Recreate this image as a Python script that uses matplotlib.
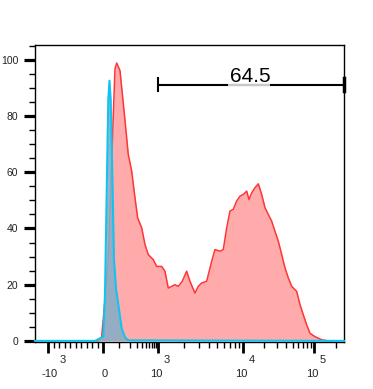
import numpy as np
import matplotlib
matplotlib.use("Agg")
import matplotlib.pyplot as plt
from matplotlib.ticker import FixedLocator, NullFormatter

plt.rcParams['font.family'] = ['Liberation Sans', 'DejaVu Sans']

# ---- biexponential-like display scale knots (fluorescence value -> display channel)
scale_values = [-2000, -1000, 0, 1000, 1e4, 1e5, 262144, 1e6]
scale_channels = [-41.4, 13.3, 68.0, 123.3, 207.7, 279.0, 309.0, 350.3]

# ---- data: red (sample) histogram, % of max
red_x = [-1243, -73, -24, 10.9, 29.1, 48.9, 69.7, 81.3, 105.8, 150, 184, 226, 274, 320,
         402, 482, 578, 762, 916, 1097, 1200, 1314, 1441, 1577, 1726, 1925, 2170, 2375,
         2721, 2978, 3268, 3746, 4293, 4697, 5383, 5890, 6463, 7071, 7737, 8489, 9290,
         10195, 11380, 12260, 13375, 14880, 16550, 18470, 20550, 22860, 25510, 28380,
         31570, 35240, 39210, 43620, 48670, 57200, 63630, 70780, 79000, 87880, 103300,
         128000, 158000, 262144]
red_y = [0, 0, 1.5, 14.6, 28.9, 64.6, 96.8, 98.9, 96.2, 78.3, 66.4, 60.5, 51, 43.8,
         40.2, 34.3, 30.7, 28.9, 26.5, 26.5, 24.8, 18.8, 19.4, 20, 19.4, 21.2, 24.8, 21.2,
         17, 19.4, 20.6, 21.2, 28.3, 32.5, 31.9, 32.5, 40.2, 46.2, 46.8, 49.8, 51.5,
         52.1, 53.3, 50.3, 52.7, 54.5, 55.9, 52.1, 47.4, 45, 42.6, 39, 35.5, 30.7, 26,
         22.4, 19.4, 17.6, 12.9, 9.3, 5.7, 2.7, 1.5, 0.4, 0, 0]

# ---- data: cyan (control) histogram, % of max
cyan_x = [-1243, -146, 1.6, 10.9, 20.2, 29.1, 36, 43, 48.9, 55.2, 63.2, 76.6, 92.8,
          119.5, 150, 184, 262144]
cyan_y = [0, 0, 1.5, 17, 52.8, 86, 92.6, 86, 70, 52, 29, 18.5, 13, 4.5, 1.2, 0.2, 0]

# ---- gate
gate_lo, gate_hi = 1000, 262144
gate_level = 91.2
gate_label = "64.5"
gate_label_x = 12600
gate_gray = (6700, 24150)

y_major = [0, 20, 40, 60, 80, 100]
y_minor = [v for v in range(0, 106, 5) if v % 20]
x_major = [-1000, 0, 1000, 1e4, 1e5]
x_minor = ([-100 * k for k in range(1, 10)] + [100 * k for k in range(1, 10)] +
           [1000 * k for k in range(2, 10)] + [1e4 * k for k in range(2, 10)] + [2e5])


def to_u(v):
    v = np.asarray(v, float)
    return np.where(v < 0, v * 0.003, np.arcsinh(np.clip(v, 0, None) / 100.0))


def from_u(u):
    u = np.asarray(u, float)
    return np.where(u < 0, u / 0.003, 100.0 * np.sinh(np.clip(u, 0, None)))


U_KN = to_u(scale_values)


def fwd(v):
    return np.interp(to_u(v), U_KN, scale_channels)


def inv(c):
    return from_u(np.interp(np.asarray(c, float), scale_channels, U_KN))


fig = plt.figure(figsize=(3.73, 3.89), dpi=100)
ax = fig.add_axes([35 / 373, 1 - 342 / 389, 309 / 373, 297 / 389])
ax.set_xscale('function', functions=(fwd, inv))

ax.fill_between(red_x, red_y, 0, color='#ffabab', lw=0, zorder=1)
ax.plot(red_x, red_y, color='#ff3535', lw=1.1, zorder=2)
ax.fill_between(cyan_x, cyan_y, 0, color='#8aaec6', alpha=0.9, lw=0, zorder=3)
ax.plot(cyan_x, cyan_y, color='#12c3f2', lw=1.5, zorder=4, clip_on=False)

ax.set_xlim(-1243, 262144)
ax.set_ylim(-0.4, 105.3)

# gate
ax.plot([gate_lo, gate_hi], [gate_level, gate_level], color='black', lw=1.5, zorder=5,
        solid_capstyle='butt')
ax.plot(list(gate_gray), [gate_level, gate_level], color='#c8c8c8', lw=1.5, zorder=6,
        solid_capstyle='butt')
ax.plot([gate_lo, gate_lo], [gate_level - 2.3, gate_level + 2.3], color='black', lw=1.5,
        zorder=5)
ax.plot([gate_hi, gate_hi], [gate_level - 2.3, gate_level + 2.3], color='black', lw=2.5,
        zorder=5, clip_on=False)
ax.text(gate_label_x, gate_level + 1.0, gate_label, ha='center', va='baseline',
        fontsize=15, color='black', zorder=7)

# axes styling
for s in ax.spines.values():
    s.set_linewidth(1.0)
    s.set_color('black')

ax.yaxis.set_major_locator(FixedLocator(y_major))
ax.yaxis.set_minor_locator(FixedLocator(y_minor))
ax.tick_params(axis='y', which='major', length=8, width=2.3, pad=4, labelsize=7.5,
               labelcolor='#222222')
ax.tick_params(axis='y', which='minor', length=4, width=1)

ax.xaxis.set_major_locator(FixedLocator(x_major))
ax.xaxis.set_minor_locator(FixedLocator(x_minor))
ax.xaxis.set_major_formatter(NullFormatter())
ax.xaxis.set_minor_formatter(NullFormatter())
ax.tick_params(axis='x', which='major', length=8, width=2)
ax.tick_params(axis='x', which='minor', length=4, width=1)

# x tick labels in FlowJo style: base + raised exponent
xt = ax.get_xaxis_transform()
k = 0.72  # px -> pt
lab_size = 8
for val, base, exp in [(-1000, '-10', '3'), (1000, '10', '3'), (1e4, '10', '4'),
                       (1e5, '10', '5')]:
    shift = 9.7 if base.startswith('-') else 4.5
    ax.annotate(base, (val, 0), xycoords=xt, xytext=(shift * k, -35 * k),
                textcoords='offset points', ha='right', va='baseline',
                fontsize=lab_size, color='#222222', annotation_clip=False)
    ax.annotate(exp, (val, 0), xycoords=xt, xytext=((shift + 1.2) * k, -21 * k),
                textcoords='offset points', ha='left', va='baseline',
                fontsize=lab_size, color='#222222', annotation_clip=False)
ax.annotate('0', (0, 0), xycoords=xt, xytext=(1.5 * k, -35 * k),
            textcoords='offset points', ha='center', va='baseline',
            fontsize=lab_size, color='#222222', annotation_clip=False)

fig.savefig('out.png', dpi=100)
